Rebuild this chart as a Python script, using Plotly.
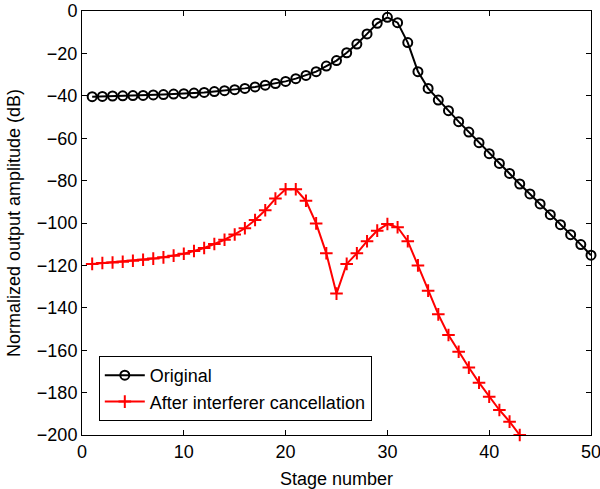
import plotly.graph_objects as go

stages = list(range(1, 51))
original = [-40.4, -40.3, -40.1, -40.0, -39.9, -39.8, -39.6, -39.4, -39.2, -39.0,
            -38.7, -38.4, -38.0, -37.6, -37.1, -36.5, -35.8, -35.0, -34.2, -33.2,
            -31.9, -30.4, -28.6, -26.0, -23.4, -19.7, -15.6, -10.8, -5.8, -3.0,
            -5.5, -14.9, -28.6, -36.5, -42.0, -47.0, -52.2, -57.1, -62.1, -67.3,
            -71.9, -76.6, -81.6, -86.3, -91.0, -96.1, -100.8, -105.5, -110.2, -115.2]

stages_red = list(range(1, 44))
cancelled = [-119.3, -118.9, -118.6, -118.3, -117.8, -117.3, -116.8, -116.2, -115.4, -114.5,
             -113.2, -111.8, -109.9, -107.9, -105.4, -102.5, -98.6, -94.0, -88.5, -84.1,
             -84.1, -89.5, -100.2, -114.3, -133.3, -119.3, -114.3, -108.6, -103.6, -100.5,
             -102.0, -108.6, -120.0, -131.9, -143.1, -152.8, -160.7, -168.2, -175.3, -181.9,
             -188.2, -193.7, -200.0]

x_ticks = [0, 10, 20, 30, 40, 50]
y_ticks = [-200, -180, -160, -140, -120, -100, -80, -60, -40, -20, 0]

FONT = "Liberation Sans, Arial, Helvetica, sans-serif"

fig = go.Figure()
fig.add_trace(go.Scatter(
    x=stages, y=original, name="Original", mode="lines+markers",
    line=dict(color="black", width=2),
    marker=dict(symbol="circle-open", size=9, color="black", line=dict(width=2, color="black")),
    cliponaxis=False,
))
fig.add_trace(go.Scatter(
    x=stages_red, y=cancelled, name="After interferer cancellation", mode="lines+markers",
    line=dict(color="red", width=2),
    marker=dict(symbol="cross-thin-open", size=9, color="red", line=dict(width=2, color="red")),
    cliponaxis=False,
))

axis_common = dict(
    showline=True, linecolor="black", linewidth=1, mirror="ticks",
    ticks="inside", ticklen=5, tickcolor="black", tickwidth=1,
    showgrid=False, zeroline=False, ticklabeloverflow="allow",
    tickfont=dict(family=FONT, size=18, color="black"),
)

fig.update_layout(
    width=600, height=489,
    margin=dict(l=82, r=9, t=11, b=54),
    paper_bgcolor="white", plot_bgcolor="white",
    font=dict(family=FONT, size=18, color="black"),
    xaxis=dict(range=[0, 50], tickvals=x_ticks, automargin=False,
               title=dict(text="Stage number", font=dict(size=18)), **axis_common),
    yaxis=dict(range=[-200, 0], tickvals=y_ticks, automargin="left",
               title=dict(text="Normalized output amplitude (dB)", font=dict(size=18), standoff=11),
               **axis_common),
    legend=dict(x=0.033, y=0.033, xanchor="left", yanchor="bottom",
                bgcolor="white", bordercolor="black", borderwidth=1,
                font=dict(size=18), itemwidth=40, tracegroupgap=0),
    showlegend=True,
)

fig.write_html("out.html", config={"displayModeBar": False},
               post_script="document.body.style.margin='0px';")
